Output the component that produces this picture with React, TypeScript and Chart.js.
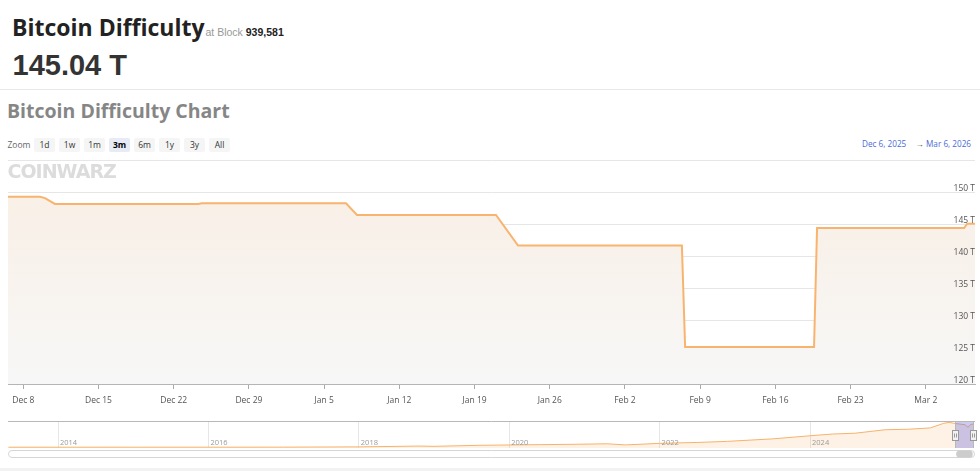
import React, { useEffect, useRef } from 'react';
import { Chart, registerables } from 'chart.js';

Chart.register(...registerables);

// ---- Main chart data (x = days since Dec 6, 2025 00:00) ----
const DAYS = [0.58, 3.56, 4.02, 4.95, 18.3, 18.6, 32.04, 33.06, 46.0, 48.05, 63.3, 63.6, 75.6, 75.88, 89.57, 89.85, 90.58];
const DIFF_T = [149.27, 149.27, 149.05, 148.13, 148.13, 148.23, 148.23, 146.41, 146.41, 141.64, 141.64, 125.78, 125.78, 144.38, 144.38, 145.04, 145.04];
const RANGE_START_DAY = 0.58;
const RANGE_END_DAY = 90.58;
const X_TICK_DAYS = [2, 9, 16, 23, 30, 37, 44, 51, 58, 65, 72, 79, 86];
const X_TICK_LABELS = ['Dec 8', 'Dec 15', 'Dec 22', 'Dec 29', 'Jan 5', 'Jan 12', 'Jan 19', 'Jan 26', 'Feb 2', 'Feb 9', 'Feb 16', 'Feb 23', 'Mar 2'];
const Y_TICKS = [120, 125, 130, 135, 140, 145, 150, 155];
const Y_MIN = 120;
const Y_MAX = 155;

// ---- Navigator data (x = year) ----
const NAV_YEARS = [2013.34, 2014.0, 2015.0, 2016.0, 2017.0, 2018.0, 2018.8, 2019.0, 2019.6, 2020.0, 2020.4, 2020.9, 2021.3, 2021.55, 2022.0, 2022.5, 2022.9, 2023.5, 2024.0, 2024.3, 2024.6, 2025.0, 2025.3, 2025.6, 2025.78, 2025.85, 2025.93, 2026.06, 2026.1, 2026.14, 2026.18];
const NAV_DIFF = [0.01, 0.001, 0.04, 0.1, 0.3, 2.0, 7.2, 5.6, 12, 14, 16, 18.6, 21.5, 14.4, 24.3, 29.9, 36.8, 52.4, 72, 83, 88.1, 110, 113, 121.5, 150.8, 155.97, 149.3, 141.7, 125.9, 144.4, 145.0];
const NAV_YEAR_TICKS = [2014, 2016, 2018, 2020, 2022, 2024];
const NAV_MIN = 2013.335;
const NAV_MAX = 2026.194;
const SEL_START = 2025.93;
const SEL_END = 2026.177;

const ZOOM_BUTTONS = ['1d', '1w', '1m', '3m', '6m', '1y', '3y', 'All'];
const ZOOM_SELECTED = '3m';
const DATE_FROM = 'Dec 6, 2025';
const DATE_TO = 'Mar 6, 2026';

const SMALL_FONT = "'Open Sans', sans-serif";

function MainChart() {
  const ref = useRef<HTMLCanvasElement>(null);
  useEffect(() => {
    const c = ref.current!;
    const chart = new Chart(c, {
      type: 'line',
      data: {
        datasets: [
          {
            data: DAYS.map((d, i) => ({ x: d, y: DIFF_T[i] })),
            borderColor: '#f8b46e',
            borderWidth: 2,
            pointRadius: 0,
            tension: 0,
            fill: 'start',
            backgroundColor: (ctx: any) => {
              const ch = ctx.chart;
              const a = ch.chartArea;
              if (!a) return '#f8efe6';
              const g = ch.ctx.createLinearGradient(0, a.top, 0, a.bottom);
              g.addColorStop(0, '#f9eee3');
              g.addColorStop(1, '#f7f7f7');
              return g;
            },
          },
        ],
      },
      options: {
        responsive: false,
        animation: false,
        events: [],
        layout: { padding: { left: 8, right: 5, top: 10, bottom: 0 } },
        plugins: { legend: { display: false }, tooltip: { enabled: false } },
        scales: {
          x: {
            type: 'linear',
            min: RANGE_START_DAY,
            max: RANGE_END_DAY,
            afterBuildTicks: (s: any) => {
              s.ticks = X_TICK_DAYS.map((v) => ({ value: v }));
            },
            afterFit: (s: any) => {
              s.height = 31;
            },
            ticks: {
              autoSkip: false,
              maxRotation: 0,
              padding: 6,
              color: '#555',
              font: { family: SMALL_FONT, size: 8.5 },
              callback: (v: any) => {
                const i = X_TICK_DAYS.indexOf(v);
                return i >= 0 ? X_TICK_LABELS[i] : '';
              },
            },
            grid: { drawOnChartArea: false, drawTicks: true, tickLength: 5, color: '#aaaaaa' },
            border: { color: '#b5b5b5' },
          },
          y: {
            position: 'right',
            min: Y_MIN,
            max: Y_MAX,
            afterBuildTicks: (s: any) => {
              s.ticks = Y_TICKS.map((v) => ({ value: v }));
            },
            afterFit: (s: any) => {
              s.width = 0;
            },
            ticks: {
              z: 1,
              mirror: true,
              padding: 0,
              labelOffset: -3,
              autoSkip: false,
              color: '#555',
              font: { family: SMALL_FONT, size: 8.5 },
              callback: (v: any) => (v === Y_MAX ? '' : v + ' T'),
            },
            grid: { color: '#e6e6e6', drawTicks: false },
            border: { display: false },
          },
        },
      },
    } as any);
    return () => chart.destroy();
  }, []);
  return (
    <canvas
      ref={ref}
      width={980}
      height={265}
      style={{ position: 'absolute', left: 0, top: 150, width: 980, height: 265 }}
    />
  );
}

function roundRectPath(ctx: CanvasRenderingContext2D, x: number, y: number, w: number, h: number, r: number) {
  const rr = Math.min(r, w / 2, h / 2);
  ctx.beginPath();
  ctx.moveTo(x + rr, y);
  ctx.lineTo(x + w - rr, y);
  ctx.arcTo(x + w, y, x + w, y + rr, rr);
  ctx.lineTo(x + w, y + h - rr);
  ctx.arcTo(x + w, y + h, x + w - rr, y + h, rr);
  ctx.lineTo(x + rr, y + h);
  ctx.arcTo(x, y + h, x, y + h - rr, rr);
  ctx.lineTo(x, y + rr);
  ctx.arcTo(x, y, x + rr, y, rr);
  ctx.closePath();
}

const navOverlay = {
  id: 'navOverlay',
  afterDraw(chart: any) {
    const { ctx, chartArea: a, scales } = chart;
    const x = scales.x;
    const x0 = x.getPixelForValue(SEL_START);
    const x1 = x.getPixelForValue(SEL_END);
    ctx.save();
    // year labels
    ctx.fillStyle = '#9a9a9a';
    ctx.font = `7.5px ${SMALL_FONT}`;
    ctx.textAlign = 'left';
    ctx.textBaseline = 'alphabetic';
    NAV_YEAR_TICKS.forEach((yr) => {
      ctx.fillText(String(yr), x.getPixelForValue(yr) + 2, a.bottom - 3);
    });
    // selection mask
    ctx.fillStyle = 'rgba(110,110,215,0.36)';
    ctx.fillRect(x0, a.top, x1 - x0, a.bottom - a.top);
    // outline
    ctx.strokeStyle = '#b8b8b8';
    ctx.lineWidth = 1;
    ctx.beginPath();
    ctx.moveTo(a.left, a.top + 0.5);
    ctx.lineTo(a.right, a.top + 0.5);
    ctx.moveTo(Math.round(x0) + 0.5, a.top);
    ctx.lineTo(Math.round(x0) + 0.5, a.bottom);
    ctx.moveTo(Math.round(x1) - 0.5, a.top);
    ctx.lineTo(Math.round(x1) - 0.5, a.bottom);
    ctx.stroke();
    // handles
    const midY = (a.top + a.bottom) / 2;
    [x0, x1].forEach((cx) => {
      const hx = Math.round(cx - 3.5) + 0.5;
      const hy = Math.round(midY - 5) + 0.5;
      ctx.fillStyle = '#f2f2f2';
      ctx.strokeStyle = '#999999';
      ctx.fillRect(hx, hy, 6, 10);
      ctx.strokeRect(hx, hy, 6, 10);
      ctx.beginPath();
      ctx.moveTo(hx + 2, hy + 3);
      ctx.lineTo(hx + 2, hy + 7);
      ctx.moveTo(hx + 4, hy + 3);
      ctx.lineTo(hx + 4, hy + 7);
      ctx.stroke();
    });
    // scrollbar
    const sy = a.bottom + 2.5;
    roundRectPath(ctx, a.left + 0.5, sy, a.right - a.left - 1, 7, 3.5);
    ctx.fillStyle = '#ffffff';
    ctx.fill();
    ctx.strokeStyle = '#d6d6d6';
    ctx.stroke();
    roundRectPath(ctx, x0 + 1, sy, x1 - x0 - 2, 7, 3.5);
    ctx.fillStyle = '#cccccc';
    ctx.fill();
    ctx.restore();
  },
};

function NavigatorChart() {
  const ref = useRef<HTMLCanvasElement>(null);
  useEffect(() => {
    const c = ref.current!;
    const chart = new Chart(c, {
      type: 'line',
      data: {
        datasets: [
          {
            data: NAV_YEARS.map((yr, i) => ({ x: yr, y: NAV_DIFF[i] })),
            borderColor: '#f7b26a',
            borderWidth: 1,
            pointRadius: 0,
            tension: 0,
            fill: 'start',
            backgroundColor: 'rgba(247,178,110,0.18)',
          },
        ],
      },
      options: {
        responsive: false,
        animation: false,
        events: [],
        layout: { padding: { left: 8, right: 5, top: 3, bottom: 14 } },
        plugins: { legend: { display: false }, tooltip: { enabled: false } },
        scales: {
          x: {
            type: 'linear',
            min: NAV_MIN,
            max: NAV_MAX,
            afterBuildTicks: (s: any) => {
              s.ticks = NAV_YEAR_TICKS.map((v) => ({ value: v }));
            },
            afterFit: (s: any) => {
              s.height = 0;
            },
            grid: { color: '#e6e6e6', drawTicks: false },
            border: { display: false },
            ticks: { display: false },
          },
          y: { display: false, min: -5, max: 165 },
        },
      },
      plugins: [navOverlay],
    } as any);
    return () => chart.destroy();
  }, []);
  return (
    <canvas
      ref={ref}
      width={980}
      height={44}
      style={{ position: 'absolute', left: 0, top: 418, width: 980, height: 44 }}
    />
  );
}

export default function App() {
  const abs = (s: React.CSSProperties): React.CSSProperties => ({ position: 'absolute', whiteSpace: 'nowrap', ...s });
  return (
    <div style={{ position: 'absolute', left: 0, top: 0, width: 980, height: 471, background: '#fff', overflow: 'hidden' }}>
      {/* Header */}
      <div style={abs({ left: 12, top: 15.6, fontFamily: SMALL_FONT, fontWeight: 700, fontSize: 23, lineHeight: 1, color: '#222' })}>
        Bitcoin Difficulty
      </div>
      <div style={abs({ left: 205.5, top: 26.6, fontFamily: "'Liberation Sans', Arial, sans-serif", fontSize: 10.5, lineHeight: 1, color: '#999' })}>
        at Block <span style={{ color: '#222', fontWeight: 700 }}>939,581</span>
      </div>
      <div style={abs({ left: 12.5, top: 50.5, fontFamily: "'Liberation Sans', Arial, sans-serif", fontWeight: 700, fontSize: 29, lineHeight: 1, color: '#333' })}>
        145.04 T
      </div>
      <div style={abs({ left: 0, top: 89, width: 980, height: 1, background: '#e8e8e8' })} />

      {/* Chart title */}
      <div style={abs({ left: 7, top: 101, fontFamily: SMALL_FONT, fontWeight: 700, fontSize: 19.5, lineHeight: 1, color: '#868686' })}>
        Bitcoin Difficulty Chart
      </div>

      {/* Range selector */}
      <div style={abs({ left: 7.5, top: 138, height: 14, lineHeight: '14px', fontFamily: SMALL_FONT, fontSize: 8.5, color: '#666' })}>Zoom</div>
      {ZOOM_BUTTONS.map((b, i) => (
        <div
          key={b}
          style={abs({
            left: 34 + i * 25,
            top: 138,
            width: 21,
            height: 14,
            lineHeight: '14px',
            textAlign: 'center',
            fontFamily: SMALL_FONT,
            fontSize: 8.5,
            borderRadius: 2,
            background: b === ZOOM_SELECTED ? '#e6ebf5' : '#f5f5f5',
            color: b === ZOOM_SELECTED ? '#000' : '#333',
            fontWeight: b === ZOOM_SELECTED ? 700 : 400,
          })}
        >
          {b}
        </div>
      ))}
      <div style={abs({ left: 862, top: 137, height: 14, lineHeight: '14px', fontFamily: SMALL_FONT, fontSize: 8.2, color: '#4a6ad8' })}>{DATE_FROM}</div>
      <div style={abs({ left: 915.5, top: 137, height: 14, lineHeight: '14px', fontFamily: SMALL_FONT, fontSize: 8.2, color: '#444' })}>→</div>
      <div style={abs({ left: 926, top: 137, height: 14, lineHeight: '14px', fontFamily: SMALL_FONT, fontSize: 8.2, color: '#4a6ad8' })}>{DATE_TO}</div>

      <MainChart />

      {/* Watermark */}
      <div style={abs({ left: 7.5, top: 162.2, fontFamily: "'DejaVu Sans', sans-serif", fontWeight: 700, fontSize: 19, lineHeight: 1, letterSpacing: -1, color: '#dcdcdc' })}>
        COINWARZ
      </div>

      <NavigatorChart />

      <div style={abs({ left: 0, top: 468, width: 980, height: 3, background: '#f2f2f2' })} />
    </div>
  );
}
